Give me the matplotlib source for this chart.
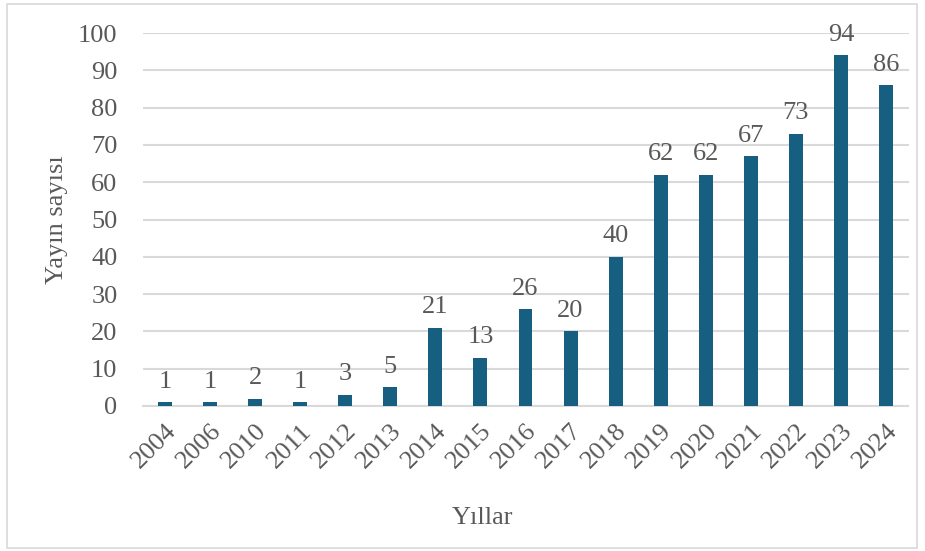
import matplotlib.pyplot as plt
import matplotlib.patches as patches

years = ["2004", "2006", "2010", "2011", "2012", "2013", "2014", "2015", "2016",
         "2017", "2018", "2019", "2020", "2021", "2022", "2023", "2024"]
counts = [1, 1, 2, 1, 3, 5, 21, 13, 26, 20, 40, 62, 62, 67, 73, 94, 86]

plt.rcParams['font.family'] = ['Liberation Serif', 'DejaVu Serif']
text_color = "#595959"
bar_color = "#175f81"

fig = plt.figure(figsize=(9.25, 5.51), dpi=100)
ax = fig.add_axes([142.5 / 925, 1 - 406 / 551, 766 / 925, 373 / 551])

x = list(range(len(years)))
bars = ax.bar(x, counts, width=0.31, color=bar_color, zorder=3)
for xi, v in zip(x, counts):
    ax.text(xi, v + 2.5, str(v), ha="center", va="bottom", fontsize=19, color=text_color)

ax.set_xlim(-0.5, len(years) - 0.5)
ax.set_ylim(0, 100)
ax.set_yticks(range(0, 101, 10))
ax.set_xticks(x)
ax.set_xticklabels(years, rotation=45, ha="right", rotation_mode="anchor")
ax.tick_params(axis="both", length=0, labelsize=19, labelcolor=text_color)
ax.tick_params(axis="y", pad=18)
ax.tick_params(axis="x", pad=10)
ax.grid(axis="y", color="#d9d9d9", linewidth=1.5, zorder=0)
for s in ["top", "right", "left"]:
    ax.spines[s].set_visible(False)
ax.spines["bottom"].set_color("#d9d9d9")
ax.spines["bottom"].set_linewidth(1.5)

fig.text(57 / 925, 1 - 220 / 551, "Yayın sayısı", rotation=90, ha="center", va="center",
         fontsize=19, color=text_color)
fig.text(483 / 925, 1 - 518 / 551, "Yıllar", ha="center", va="center",
         fontsize=19, color=text_color)

fig.patches.append(patches.Rectangle((7 / 925, 1 - 548 / 551), 910 / 925, 544 / 551,
                                     transform=fig.transFigure, fill=False,
                                     edgecolor="#d9d9d9", linewidth=1.2))

fig.savefig("out.png", dpi=100)
